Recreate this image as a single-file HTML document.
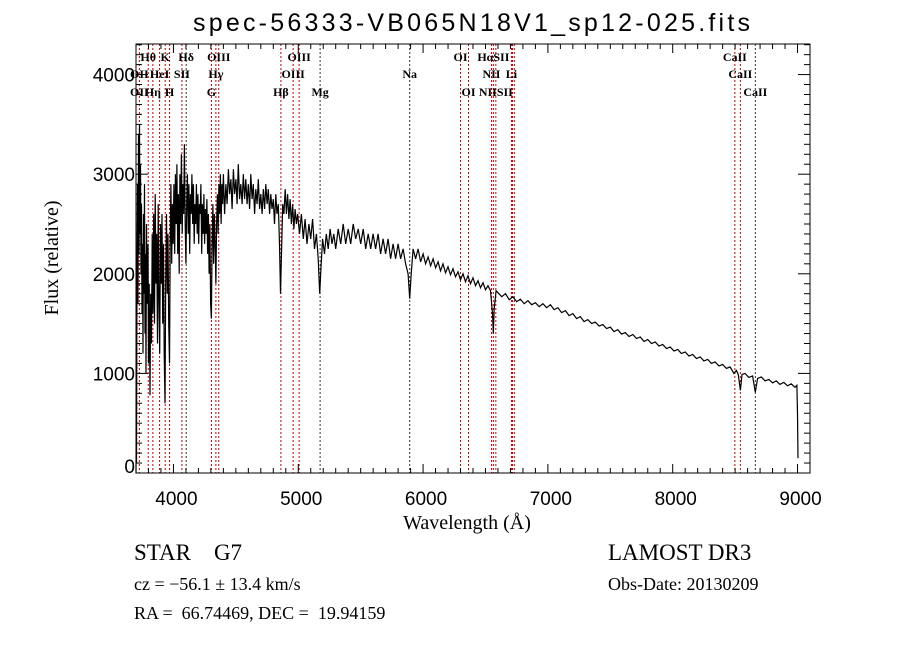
<!DOCTYPE html>
<html><head><meta charset="utf-8"><style>
html,body{margin:0;padding:0;background:#fff;}
svg{display:block;}
text{font-family:"Liberation Serif",serif;fill:#000;white-space:pre;}
.sans{font-family:"Liberation Sans",sans-serif;}
.lab{font-size:12px;font-weight:bold;}
</style></head><body>
<svg id="chart" width="900" height="649" viewBox="0 0 900 649" xmlns="http://www.w3.org/2000/svg" xml:space="preserve">
<rect x="0" y="0" width="900" height="649" fill="#fff"/>
<text class="sans" x="193" y="31" font-size="25" textLength="557" lengthAdjust="spacing">spec-56333-VB065N18V1_sp12-025.fits</text>
<g id="lines"></g>
<g id="axes"></g>
<g id="spec"></g>
<text x="467" y="529" font-size="20" text-anchor="middle">Wavelength (Å)</text>
<text x="58" y="258" font-size="20" text-anchor="middle" transform="rotate(-90 58 258)">Flux (relative)</text>
<text x="134" y="560" font-size="23">STAR    G7</text>
<text x="134" y="590" font-size="18">cz = −56.1 ± 13.4 km/s</text>
<text x="134" y="619" font-size="18">RA =  66.74469, DEC =  19.94159</text>
<text x="608" y="560" font-size="23">LAMOST DR3</text>
<text x="608" y="590" font-size="18">Obs-Date: 20130209</text>
</svg>
<script>
const wavelengths=[3700,3702,3704,3708,3712,3716,3720,3724,3728,3732,3736,3740,3744,3748,3752,3756,3760,3764,3768,3772,3776,3780,3784,3790,3796,3800,3806,3812,3818,3824,3830,3836,3842,3848,3854,3860,3866,3872,3878,3884,3890,3896,3902,3908,3914,3920,3926,3932,3938,3944,3950,3956,3962,3968,3974,3980,3986,3992,3998,4004,4010,4016,4022,4028,4034,4040,4046,4052,4058,4064,4070,4076,4082,4088,4094,4100,4106,4112,4118,4124,4130,4136,4142,4148,4154,4160,4166,4172,4178,4184,4190,4196,4202,4208,4214,4220,4226,4232,4238,4244,4250,4256,4262,4268,4274,4280,4286,4292,4298,4304,4310,4316,4322,4328,4334,4340,4346,4352,4358,4364,4370,4376,4382,4388,4394,4400,4410,4420,4430,4440,4450,4460,4470,4480,4490,4500,4510,4520,4530,4540,4550,4560,4570,4580,4590,4600,4610,4620,4630,4640,4650,4660,4670,4680,4690,4700,4710,4720,4730,4740,4750,4760,4770,4780,4790,4800,4810,4820,4830,4840,4850,4858,4866,4875,4885,4895,4905,4915,4925,4935,4945,4955,4965,4975,4985,4995,5010,5025,5040,5055,5070,5085,5100,5115,5130,5145,5160,5172,5184,5195,5210,5225,5240,5255,5270,5285,5300,5320,5340,5360,5380,5400,5420,5440,5460,5480,5500,5520,5540,5560,5580,5600,5620,5640,5660,5680,5700,5720,5740,5760,5780,5800,5820,5840,5860,5880,5893,5905,5920,5940,5960,5980,6000,6020,6040,6060,6080,6100,6120,6140,6160,6180,6200,6220,6240,6260,6280,6300,6320,6340,6360,6380,6400,6420,6440,6460,6480,6500,6520,6540,6556,6563,6570,6585,6600,6630,6660,6690,6720,6750,6780,6810,6840,6870,6900,6930,6960,6990,7020,7050,7080,7110,7140,7170,7200,7230,7260,7290,7320,7350,7380,7410,7440,7470,7500,7530,7560,7590,7620,7650,7680,7710,7740,7770,7800,7830,7860,7890,7920,7950,7980,8010,8040,8070,8100,8130,8160,8190,8220,8250,8280,8310,8340,8370,8400,8430,8460,8490,8510,8525,8542,8555,8580,8610,8640,8662,8680,8710,8740,8770,8800,8830,8860,8890,8920,8950,8980,8995,9000,9004];
const fluxValues=[0,450,100,2000,2900,1700,3400,2200,3500,2400,3100,2000,2700,1600,2300,1200,2600,1800,2900,1400,2200,1000,2500,1700,2300,1100,1900,780,1800,1300,2400,1600,2600,1500,2800,1900,2400,1300,2700,1700,1200,2500,1900,2600,1500,2300,1200,700,1900,2600,1800,2400,1500,1100,2300,2900,2100,2700,2300,2900,2200,3000,2500,3100,2200,2800,2000,3000,2500,3200,2400,2900,2600,3300,2500,2100,2700,3000,2400,2900,2200,2800,2600,3000,2500,2900,2300,2700,2500,2900,2400,2800,2300,2700,2600,2900,2200,2700,2400,2800,2300,2650,2400,2750,2200,2600,2000,2500,1700,1550,2300,2700,2100,2600,2300,1900,2500,2800,2400,2900,2600,3000,2500,2900,2700,3000,2600,2900,2700,3050,2800,2950,2650,3050,2800,2950,2700,3100,2750,2900,2700,3000,2750,2950,2700,2900,2650,3000,2750,2900,2600,2850,2700,2950,2650,2800,2600,2850,2650,2900,2700,2850,2600,2800,2650,2750,2500,2800,2600,2700,2300,1800,2200,2700,2600,2850,2600,2800,2550,2750,2500,2700,2450,2650,2500,2600,2400,2600,2350,2550,2300,2500,2350,2550,2250,2400,2150,1800,2100,2350,2200,2400,2250,2450,2300,2400,2250,2450,2300,2500,2300,2450,2300,2500,2350,2450,2300,2450,2250,2400,2250,2400,2250,2400,2200,2350,2200,2350,2150,2300,2150,2300,2150,2250,2100,2000,1750,2000,2250,2150,2250,2120,2200,2100,2170,2080,2150,2060,2120,2030,2100,2010,2070,1990,2050,1970,2020,1940,2000,1920,1980,1900,1960,1880,1930,1860,1910,1840,1880,1830,1600,1400,1650,1830,1810,1770,1800,1740,1770,1720,1745,1700,1730,1690,1710,1670,1700,1660,1690,1640,1660,1610,1630,1580,1600,1550,1570,1520,1540,1500,1515,1475,1490,1450,1465,1420,1440,1395,1410,1370,1390,1350,1365,1320,1340,1300,1315,1275,1290,1250,1265,1225,1240,1200,1215,1175,1190,1150,1165,1125,1140,1100,1115,1075,1090,1050,1065,1000,1030,990,830,990,1000,960,975,810,950,965,925,940,905,925,890,910,875,895,860,880,600,150];
const lineWaves=[3727,3798,3835,3889,3934,3969,4068,4102,4304,4340,4363,4861,4959,5007,5175,5893,6300,6364,6548,6563,6583,6708,6717,6731,8498,8542,8662];
const lineDark=[0,0,0,0,0,0,0,1,0,0,0,0,0,0,1,1,0,0,0,0,0,0,0,0,0,0,1];
const labelTexts=["Hθ","K","Hδ","OIII","OIII","OI","HαSII","CaII","OII","HeI","SII","Hγ","OIII","Na","NII","Li","CaII","OII","Hη","H","G","Hβ","Mg","OI","NIISII","CaII"];
const labelWaves=[3798,3934,4102,4363,5007,6300,6563,8498,3727,3889,4068,4340,4959,5893,6548,6708,8542,3727,3835,3969,4304,4861,5175,6364,6583,8662];
const labelRows=[0,0,0,0,0,0,0,0,1,1,1,1,1,1,1,1,1,2,2,2,2,2,2,2,2,2];
const xTicks=[4000,5000,6000,7000,8000,9000];
const yTicks=[0,1000,2000,3000,4000];

const NS="http://www.w3.org/2000/svg";
const X0=136,X1=810,Y0=473,Y1=44,WMIN=3700,WMAX=9100,FMIN=0,FMAX=4307;
function xs(w){return X0+(w-WMIN)/(WMAX-WMIN)*(X1-X0);}
function ys(f){return Y0-(f-FMIN)/(FMAX-FMIN)*(Y0-Y1);}
function mk(tag,attrs,parent){const e=document.createElementNS(NS,tag);for(const k in attrs)e.setAttribute(k,attrs[k]);parent.appendChild(e);return e;}

const gl=document.getElementById('lines');
lineWaves.forEach((w,i)=>{
  const l=mk('line',{x1:xs(w),x2:xs(w),y1:Y1,y2:Y0,stroke:lineDark[i]?'#333':'#c00000','stroke-width':1,'stroke-dasharray':'2,2'},gl);
  
  
});
const rowY=[61,78,96];
labelTexts.forEach((t,i)=>{
  const tx=mk('text',{x:xs(labelWaves[i]),y:rowY[labelRows[i]],'text-anchor':'middle',class:'lab'},gl);
  tx.textContent=t;
  
  
});

const ga=document.getElementById('axes');
const frame=mk('rect',{x:X0,y:Y1,width:X1-X0,height:Y0-Y1,fill:'none',stroke:'#000','stroke-width':1},ga);


for(let w=3700;w<=9100;w+=100){
  const maj=w%1000===0, L=maj?9:5, x=xs(w);
  mk('line',{x1:x,x2:x,y1:Y0,y2:Y0-L,stroke:'#000'},ga);
  mk('line',{x1:x,x2:x,y1:Y1,y2:Y1+L,stroke:'#000'},ga);
}
for(let f=0;f<=4300;f+=100){
  const maj=f%1000===0, L=maj?12:6, y=ys(f);
  mk('line',{x1:X0,x2:X0+L,y1:y,y2:y,stroke:'#000'},ga);
  mk('line',{x1:X1,x2:X1-L,y1:y,y2:y,stroke:'#000'},ga);
}
xTicks.forEach(w=>{
  const t=mk('text',{x:xs(w)+3,y:505,'text-anchor':'middle','font-size':19,class:'sans'},ga);
  t.textContent=w;
  
  
});
yTicks.forEach(f=>{
  const yy=f===0?Math.min(ys(f),466):ys(f);
  const t=mk('text',{x:X0-1,y:yy+7,'text-anchor':'end','font-size':19,class:'sans'},ga);
  t.textContent=f;
  
  
});

const gs=document.getElementById('spec');
let d='';
wavelengths.forEach((w,i)=>{d+=(i?'L':'M')+xs(w).toFixed(1)+','+ys(fluxValues[i]).toFixed(1);});
const p=mk('path',{d:d,fill:'none',stroke:'#000','stroke-width':1.2},gs);


</script>
</body></html>
